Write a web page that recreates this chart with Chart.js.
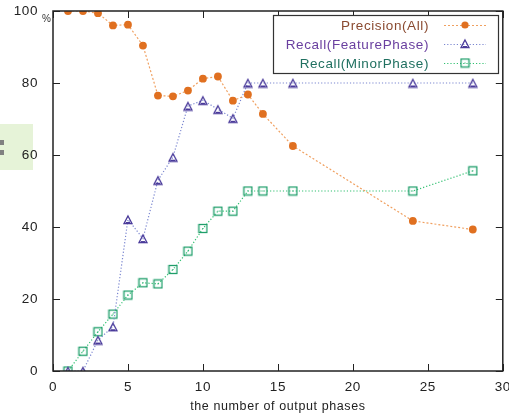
<!DOCTYPE html>
<html><head><meta charset="utf-8">
<script src="https://cdn.jsdelivr.net/npm/chart.js@4.4.1/dist/chart.umd.min.js"></script>
<style>
html,body{margin:0;padding:0;background:#fff;}
#wrap{position:relative;width:509px;height:414px;overflow:hidden;}
#deco{position:absolute;left:0;top:124px;width:33px;height:46px;background:#e6f3d8;}
.sq{position:absolute;left:0;width:4px;height:5px;background:#808080;}
#c{position:absolute;left:0;top:0;}
</style></head>
<body><div id="wrap">
<div id="deco"><div class="sq" style="top:16px"></div><div class="sq" style="top:26px"></div></div>
<canvas id="c" width="509" height="414"></canvas></div>
<script>
const phases = [1,2,3,4,5,6,7,8,9,10,11,12,13,14,16,24,28];
const precisionAll = [100,100,99.4,96.0,96.2,90.4,76.5,76.3,77.9,81.2,81.8,75.1,76.8,71.4,62.5,41.7,39.3];
const recallFeature = [0,0,8.6,12.3,42.1,36.8,53.0,59.4,73.6,75.2,72.7,70.2,80,80,80,80,80];
const recallMinor = [0,5.5,10.9,15.8,21.1,24.5,24.2,28.2,33.3,39.6,44.4,44.4,50,50,50,50,55.6];
const seriesNames = ['Precision(All)','Recall(FeaturePhase)','Recall(MinorPhase)'];
const xTicks = [0,5,10,15,20,25,30];
const yTicks = [0,20,40,60,80,100];
const xTitle = 'the number of output phases';

const FONT = '"Liberation Sans", Arial, sans-serif';
const pts = arr => phases.map((x,i)=>({x:x,y:arr[i]}));

function squarePt(){
  const c=document.createElement('canvas');c.width=11;c.height=11;const g=c.getContext('2d');
  g.strokeStyle='#1f9e6a';g.lineWidth=1.3;g.strokeRect(1.5,1.5,8,8);g.fillStyle='#1f9e6a';g.fillRect(5,5,1,1);return c;
}
function triPt(){
  const c=document.createElement('canvas');c.width=12;c.height=11;const g=c.getContext('2d');
  g.strokeStyle='#4a3a9a';g.lineWidth=1.3;g.beginPath();g.moveTo(6,2);g.lineTo(10,9.5);g.lineTo(2,9.5);g.closePath();g.stroke();
  g.fillStyle='#4a3a9a';g.fillRect(4,8,4,1.5);return c;
}
const sqImg=squarePt(), triImg=triPt();

const legendColors=['#8a4a30','#6a40a0','#207060'];

const framePlugin={
  id:'frame',
  beforeDraw(chart){ chart.ctx.letterSpacing='0.6px'; },
  afterDatasetsDraw(chart){
    const {ctx,chartArea:a,scales:{x,y}}=chart;
    ctx.save();
    ctx.strokeStyle='#222';ctx.lineWidth=1.5;
    ctx.strokeRect(a.left,a.top,a.right-a.left,a.bottom-a.top);
    ctx.lineWidth=1;
    ctx.beginPath();
    xTicks.forEach(v=>{const px=Math.round(x.getPixelForValue(v))+0.5;
      ctx.moveTo(px,a.bottom);ctx.lineTo(px,a.bottom-7);
      ctx.moveTo(px,a.top);ctx.lineTo(px,a.top+7);});
    yTicks.forEach(v=>{const py=Math.round(y.getPixelForValue(v))+0.5;
      ctx.moveTo(a.left,py);ctx.lineTo(a.left+7,py);
      ctx.moveTo(a.right,py);ctx.lineTo(a.right-7,py);});
    ctx.stroke();
    // legend
    const L={l:273,t:15,r:498,b:73};
    ctx.fillStyle='#fff';ctx.fillRect(L.l,L.t,L.r-L.l,L.b-L.t);
    ctx.strokeStyle='#333';ctx.lineWidth=1.2;ctx.strokeRect(L.l+0.5,L.t+0.5,L.r-L.l,L.b-L.t);
    ctx.font='13.5px '+FONT;ctx.textAlign='right';ctx.textBaseline='middle';
    ctx.letterSpacing='0.6px';
    const rows=[25,44,63];
    chart.data.datasets.forEach((ds,i)=>{
      const yy=rows[i];
      ctx.fillStyle=legendColors[i];
      ctx.fillText(ds.label,429,yy+1);
      ctx.save();ctx.strokeStyle=ds.borderColor;ctx.lineWidth=1;ctx.setLineDash(ds.borderDash);
      ctx.beginPath();ctx.moveTo(444,yy+0.5);ctx.lineTo(486,yy+0.5);ctx.stroke();ctx.restore();
      const cx=465;
      if(i===0){ctx.fillStyle='#e07020';ctx.beginPath();ctx.arc(cx,yy,3.6,0,Math.PI*2);ctx.fill();}
      else if(i===1){ctx.drawImage(triImg,cx-6,yy-6);}
      else {ctx.drawImage(sqImg,cx-5.5,yy-5.5);}
    });
    // percent sign
    ctx.fillStyle='#333';ctx.font='10px '+FONT;ctx.textAlign='left';ctx.letterSpacing='0px';
    ctx.fillText('%',42,19);
    ctx.restore();
  }
};

new Chart(document.getElementById('c'),{
  type:'line',
  data:{datasets:[
    {label:seriesNames[0],data:pts(precisionAll),borderColor:'#f0a060',borderWidth:1.2,borderDash:[2,2],
     pointStyle:'circle',pointRadius:3.9,pointBackgroundColor:'#e07020',pointBorderColor:'#e07020',pointBorderWidth:0},
    {label:seriesNames[1],data:pts(recallFeature),borderColor:'#7a86d0',borderWidth:1.2,borderDash:[1.2,2],
     pointStyle:triImg,pointRadius:5},
    {label:seriesNames[2],data:pts(recallMinor),borderColor:'#30c070',borderWidth:1.2,borderDash:[1.2,2],
     pointStyle:sqImg,pointRadius:5}
  ]},
  options:{
    responsive:false,animation:false,
    layout:{padding:{top:11,right:4,left:0,bottom:0}},
    plugins:{legend:{display:false},tooltip:{enabled:false}},
    scales:{
      x:{type:'linear',min:0,max:30,
        afterFit(s){s.height=43;s.paddingLeft=0;s.paddingRight=0;},
        afterBuildTicks(s){s.ticks=xTicks.map(v=>({value:v}));},
        grid:{display:false},border:{display:false},
        ticks:{color:'#222',font:{family:FONT,size:13.5},padding:0,maxRotation:0,autoSkip:false},
        title:{display:true,text:xTitle,color:'#222',font:{family:FONT,size:12.5},padding:{top:0,bottom:0}}},
      y:{type:'linear',min:0,max:100,
        afterFit(s){s.width=53;s.paddingTop=0;s.paddingBottom=0;},
        afterBuildTicks(s){s.ticks=yTicks.map(v=>({value:v}));},
        grid:{display:false},border:{display:false},
        ticks:{color:'#222',font:{family:FONT,size:13.5},padding:7}}
    }
  },
  plugins:[framePlugin]
});
</script></body></html>
